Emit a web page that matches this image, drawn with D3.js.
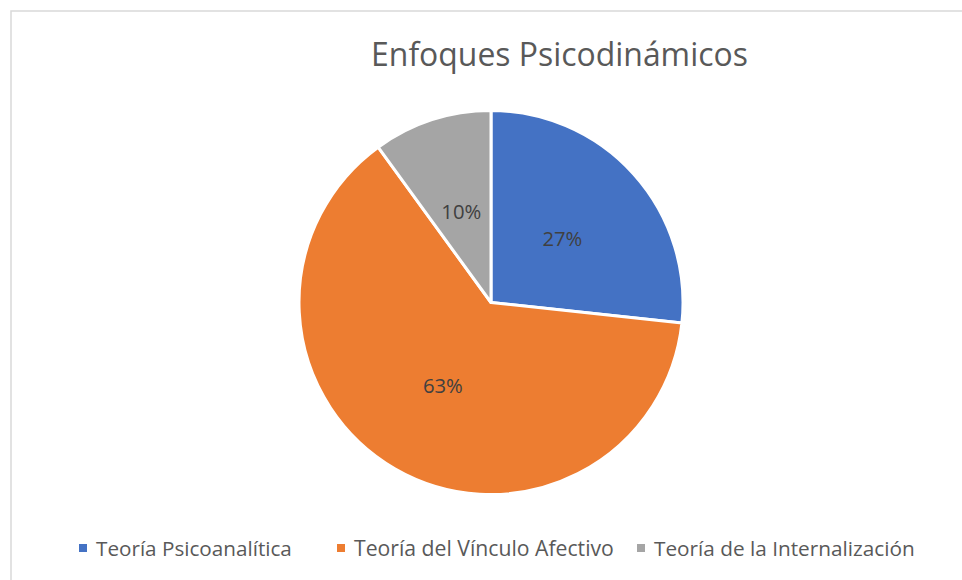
<!DOCTYPE html>
<html><head><meta charset="utf-8">
<script src="https://cdn.jsdelivr.net/npm/d3@7"></script>
<style>body{margin:0;background:#fff}svg{display:block}text{font-family:"Open Sans",sans-serif}</style>
</head><body>
<svg id="c" width="962" height="580"></svg>
<script>
const title = "Enfoques Psicodinámicos";
const categories = ["Teoría Psicoanalítica", "Teoría del Vínculo Afectivo", "Teoría de la Internalización"];
const values = [26.7, 63.3, 10];
const colors = ["#4472C4", "#ED7D31", "#A5A5A5"];

const svg = d3.select("#c");
svg.append("rect").attr("x", 11).attr("y", 11).attr("width", 1000).attr("height", 600)
  .attr("fill", "#fff").attr("stroke", "#D9D9D9").attr("stroke-width", 1.5);

function fit(sel, w) {
  const cur = sel.node().getComputedTextLength();
  const fs = parseFloat(sel.attr("font-size"));
  sel.attr("font-size", fs * w / cur);
}

const t = svg.append("text").attr("x", 559.5).attr("y", 66).attr("text-anchor", "middle")
  .attr("font-size", 30).attr("fill", "#595959").text(title);
fit(t, 377);

const cx = 491, cy = 302.5, R = 192;
const pie = d3.pie().sort(null).value(d => d)(values);
const arc = d3.arc().innerRadius(0).outerRadius(R);
const labelArc = d3.arc().innerRadius(R * 0.5).outerRadius(R * 0.5);
const g = svg.append("g").attr("transform", `translate(${cx},${cy})`);
g.selectAll("path").data(pie).join("path").attr("d", arc)
  .attr("fill", (d, i) => colors[i]).attr("stroke", "#fff").attr("stroke-width", 3).attr("stroke-linejoin", "round");
const total = d3.sum(values);
g.selectAll("text.lbl").data(pie).join("text").attr("class", "lbl")
  .attr("transform", d => `translate(${labelArc.centroid(d)})`)
  .attr("text-anchor", "middle").attr("dy", "0.36em").attr("font-size", 18).attr("fill", "#404040")
  .text(d => Math.round(d.data / total * 100) + "%")
  .each(function () { fit(d3.select(this), 40); });

const legX = [79, 337, 637];
const legW = [196, 260, 261];
categories.forEach((c, i) => {
  svg.append("rect").attr("x", legX[i]).attr("y", 544).attr("width", 8).attr("height", 8).attr("fill", colors[i]);
  const lt = svg.append("text").attr("x", legX[i] + 17).attr("y", 556).attr("font-size", 18)
    .attr("fill", "#595959").text(c);
  fit(lt, legW[i]);
});
</script>
</body></html>
